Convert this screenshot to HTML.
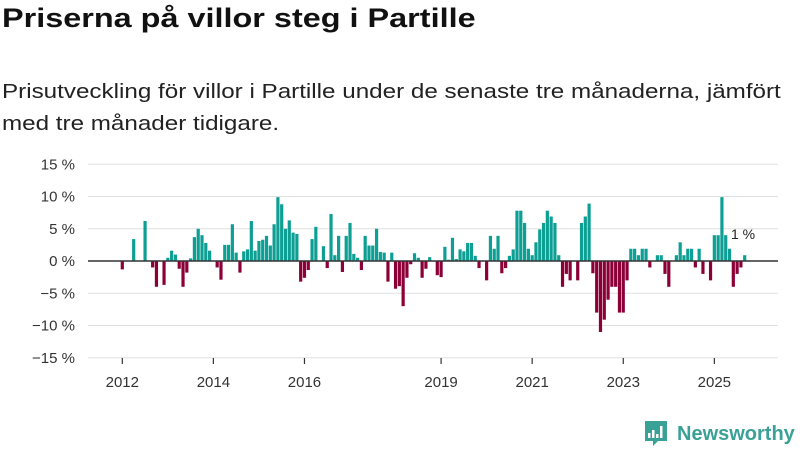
<!DOCTYPE html>
<html><head><meta charset="utf-8"><style>
body{margin:0;background:#fff;font-family:"Liberation Sans",sans-serif;}
#wrap{position:relative;width:800px;height:450px;overflow:hidden;}
h1{position:absolute;left:2px;top:3px;margin:0;font-size:27px;font-weight:bold;color:#111;transform:scaleX(1.2);transform-origin:0 0;white-space:nowrap;}
p.sub{position:absolute;left:2px;top:76px;margin:0;font-size:20px;line-height:32px;color:#222;transform:scaleX(1.21);transform-origin:0 0;white-space:nowrap;}
</style></head><body>
<div id="wrap">
<h1>Priserna på villor steg i Partille</h1>
<p class="sub">Prisutveckling för villor i Partille under de senaste tre månaderna, jämfört<br>med tre månader tidigare.</p>
<svg id="chart" width="800" height="450" style="position:absolute;left:0;top:0"></svg>
</div>
<script>
const values=[-1.3,0,0,3.4,0,0,6.2,0,-1,-4,0,-3.7,0.5,1.6,1,-1.2,-4,-1.8,0.4,3.7,5,4,2.8,1.6,0,-1,-2.9,2.5,2.5,5.7,1.3,-1.8,1.5,1.8,6.2,1.6,3.1,3.3,3.9,2.4,5.7,9.9,8.8,5,6.3,4.4,4.2,-3.2,-2.6,-1.4,3.4,5.3,
0,2.3,-1.1,7.3,0.9,3.9,-1.7,3.9,5.9,1.1,0.5,-1.4,3.9,2.4,2.4,5,1.4,1.3,-3.2,1.3,-4.3,-3.9,-7,-2.6,-0.5,1.2,0.5,-2.6,-1.2,0.6,0,-2.2,-2.5,2.2,0.2,3.6,0.3,1.8,1.5,2.8,2.8,0.8,-1.1,0,-3,3.9,1.9,3.9,-1.9,-1.1,0.8,1.8,7.8,7.8,5.9,1.9,
0.9,2.9,4.9,5.9,7.8,6.9,5.9,0.9,-4,-2,-3,0,-3,5.9,6.9,8.9,-1.9,-8,-11,-9.1,-6,-4,-4,-8,-8,-3,1.9,1.9,0.9,1.9,1.9,-1,0,0.9,0.9,-2,-4,0,0.9,2.9,0.9,1.9,1.9,-1,1.9,-2,0,-3,4,4,9.9,4,1.9,-4,-2,-1,0.9];
const startYear=2012;
const yTicks=[15,10,5,0,-5,-10,-15];
const yTickLabels=["15 %","10 %","5 %","0 %","−5 %","−10 %","−15 %"];
const xTicks=[2012,2014,2016,2019,2021,2023,2025];
const lastLabel="1 %";

const svg=document.getElementById('chart');
const NS='http://www.w3.org/2000/svg';
const n=values.length;
const pxPerYear=(744.7-122.3)/((n-1)/12);
function x(t){return 122.3+(t-startYear)*pxPerYear;}
function y(v){return 261-v*6.45;}
function mk(tag,attrs){const e=document.createElementNS(NS,tag);for(const k in attrs)e.setAttribute(k,attrs[k]);svg.appendChild(e);return e;}
yTicks.forEach((v,i)=>{
  const l=mk('line',{x1:88,x2:778,y1:y(v),y2:y(v),stroke:'#e0e0e0','stroke-width':1});
  
  
  const t=mk('text',{x:75,y:y(v)+5,'text-anchor':'end','font-size':15,fill:'#333','font-family':'Liberation Sans, sans-serif'});
  t.textContent=yTickLabels[i];
  
  
});
values.forEach((v,i)=>{
  const cx=x(startYear+i/12);
  const r=mk('rect',{x:cx-1.6,width:3.2,y:Math.min(y(v),y(0)),height:Math.abs(y(v)-y(0)),fill:v>=0?'#0e9f94':'#8c0038'});
  
  
});
const z=mk('line',{x1:88,x2:778,y1:y(0),y2:y(0),stroke:'#333','stroke-width':1.5});


xTicks.forEach(yr=>{
  const tk=mk('line',{x1:x(yr),x2:x(yr),y1:358,y2:364,stroke:'#333','stroke-width':1.2});
  
  
  const t=mk('text',{x:x(yr),y:387,'text-anchor':'middle','font-size':15,fill:'#333','font-family':'Liberation Sans, sans-serif'});
  t.textContent=yr;
  
  
});
const ann=mk('text',{x:731,y:239,'font-size':14,fill:'#222','font-family':'Liberation Sans, sans-serif'});
ann.textContent=lastLabel;


const logo=mk('g',{});


logo.innerHTML='<path d="M645 421 h22 v20 h-9 l-5 5 v-5 h-8 z" fill="#3aa196"/><rect x="648" y="433" width="2.5" height="5" fill="#fff"/><rect x="652" y="430" width="2.5" height="8" fill="#fff"/><rect x="656" y="434" width="2.5" height="4" fill="#fff"/><rect x="660" y="426" width="2.5" height="12" fill="#fff"/><text x="677" y="440" font-size="20" font-weight="bold" fill="#3aa196" font-family="Liberation Sans, sans-serif">Newsworthy</text>';
</script>
</body></html>
